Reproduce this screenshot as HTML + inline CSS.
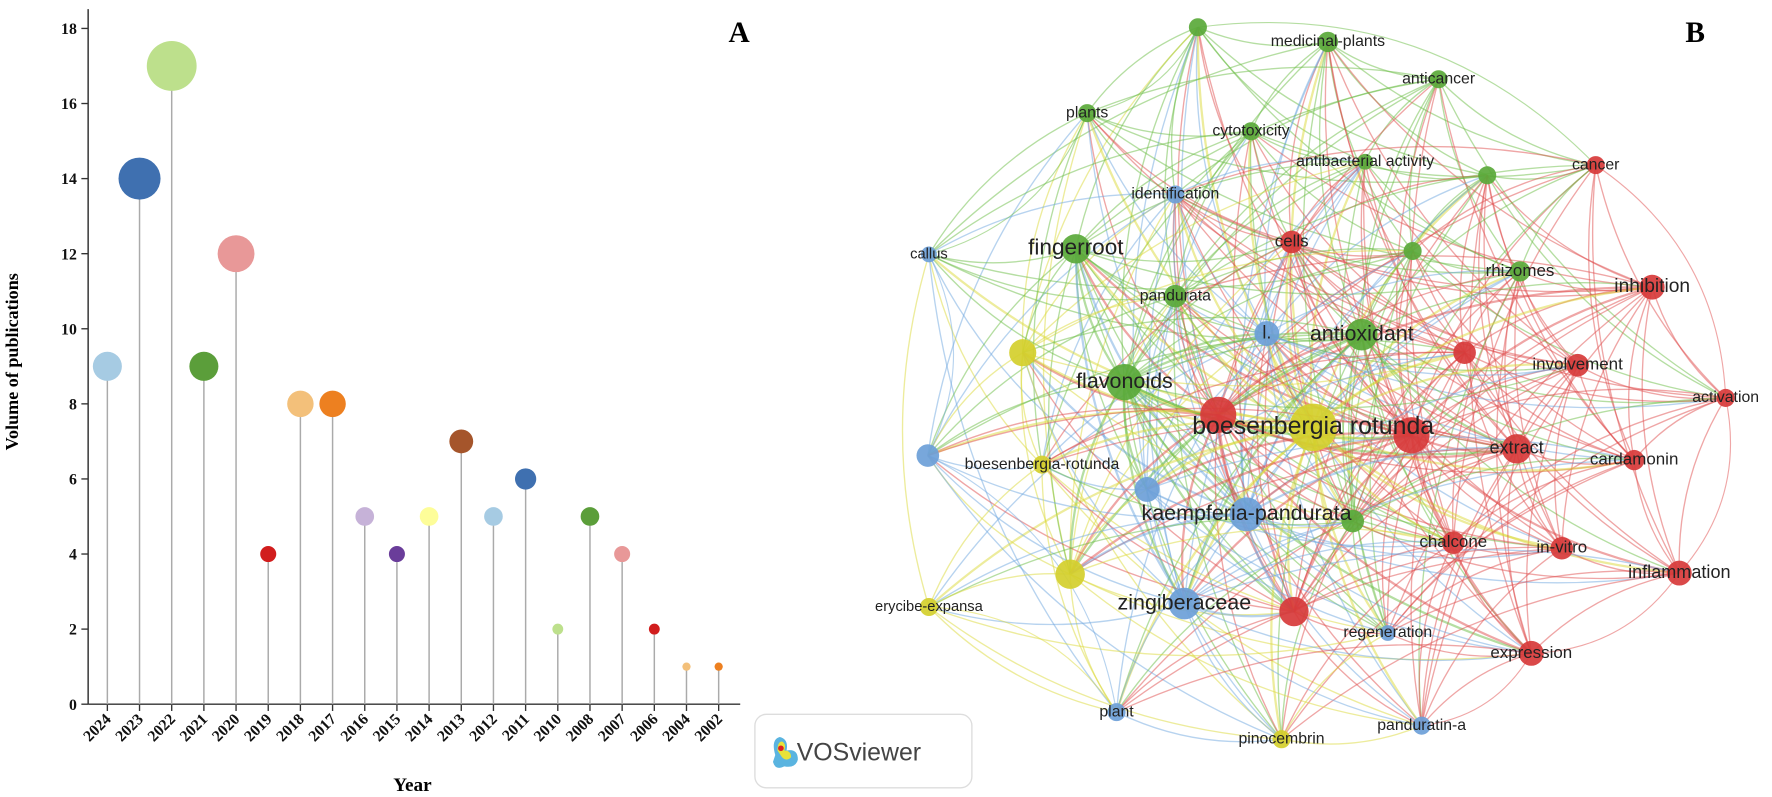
<!DOCTYPE html>
<html><head><meta charset="utf-8"><style>
html,body{margin:0;padding:0;background:#fff;}
svg{display:block;}
.tick{font-family:"Liberation Serif",serif;font-weight:bold;font-size:14px;fill:#111;}
.lbl{font-family:"Liberation Sans","DejaVu Sans",sans-serif;fill:#222;text-anchor:middle;dominant-baseline:middle;}
</style></head><body>
<svg id="fig" width="1772" height="797" viewBox="0 0 1568 705">
<g id="chartA"></g>
<g id="chartB"></g>
<text x="654" y="37" font-family="Liberation Serif,serif" font-weight="bold" font-size="26" text-anchor="middle">A</text>
<text x="1500" y="37" font-family="Liberation Serif,serif" font-weight="bold" font-size="26" text-anchor="middle">B</text>
<g>
<rect x="668" y="632" width="192" height="65" rx="10" fill="#fff" stroke="#ddd" stroke-width="1.2"/>
<path d="M686 668 q-4 -14 4 -16 q8 2 6 12 q10 -2 10 8 q-2 8 -12 6 q-8 4 -10 -4z" fill="#5ab4e0"/>
<path d="M688 664 q0 -8 4 -8 q4 2 2 8 q6 0 6 6 q-4 4 -8 0z" fill="#e8e23a"/>
<circle cx="691" cy="662" r="2.5" fill="#d22"/>
<text x="705" y="673" font-family="Liberation Sans,sans-serif" font-size="22" fill="#444">VOSviewer</text>
</g>
</svg>
<script>
const NS='http://www.w3.org/2000/svg';
// ---- Chart A data ----
const years=['2024','2023','2022','2021','2020','2019','2018','2017','2016','2015','2014','2013','2012','2011','2010','2008','2007','2006','2004','2002'];
const counts=[9,14,17,9,12,4,8,8,5,4,5,7,5,6,2,5,4,2,1,1];
const dotColors=['#a6cbe3','#3f70b0','#bde08c','#5b9e3a','#e89898','#d11d1d','#f3c07a','#ed8020','#c6b2d8','#6a3d9a','#fdfd99','#a5552b','#a6cbe3','#3f70b0','#bde08c','#5b9e3a','#e89898','#d11d1d','#f3c07a','#ed8020'];
const yTicks=[0,2,4,6,8,10,12,14,16,18];

function el(tag,attrs,parent){const e=document.createElementNS(NS,tag);for(const k in attrs)e.setAttribute(k,attrs[k]);parent.appendChild(e);return e;}
const A=document.getElementById('chartA');
const x0=78,y0=623,unit=33.22,xStart=95,xStep=28.47;
const xPos=i=>xStart+i*xStep;
const yPos=v=>y0-v*unit;
el('line',{x1:x0,y1:8,x2:x0,y2:y0,stroke:'#333','stroke-width':1.3},A);
el('line',{x1:x0,y1:y0,x2:655,y2:y0,stroke:'#333','stroke-width':1.3},A);
yTicks.forEach(t=>{
  const l=el('line',{x1:x0-6,y1:yPos(t),x2:x0,y2:yPos(t),stroke:'#333','stroke-width':1.2},A);
  
  const tx=el('text',{x:x0-10,y:yPos(t)+5,'text-anchor':'end',class:'tick'},A);tx.textContent=t;
  
  
});
years.forEach((yr,i)=>{
  const x=xPos(i);
  const tk=el('line',{x1:x,y1:y0,x2:x,y2:y0+6,stroke:'#333','stroke-width':1.2},A);
  
  const tx=el('text',{x:x+4,y:y0+14,'text-anchor':'end',class:'tick',transform:`rotate(-45 ${x+4} ${y0+14})`},A);tx.textContent=yr;
  
  
  const v=counts[i];const r=2.5+1.15*v;
  const st=el('line',{x1:x,y1:y0,x2:x,y2:yPos(v),stroke:'#aaa','stroke-width':1.3},A);
  
  
  const c=el('circle',{cx:x,cy:yPos(v),r:r,fill:dotColors[i]},A);
  
  
});
const yt=el('text',{x:16,y:320,'text-anchor':'middle',transform:'rotate(-90 16 320)','font-family':'Liberation Serif,serif','font-weight':'bold','font-size':16},A);
yt.textContent='Volume of publications';

const xt=el('text',{x:365,y:700,'text-anchor':'middle','font-family':'Liberation Serif,serif','font-weight':'bold','font-size':17},A);
xt.textContent='Year';


// ---- Chart B data ----
const nodeLabels=['','medicinal-plants','anticancer','plants','cytotoxicity','antibacterial activity','','cancer','identification','callus','fingerroot','cells','','rhizomes','inhibition','pandurata','l.','antioxidant','','','flavonoids','involvement','activation','','boesenbergia rotunda','','extract','cardamonin','','boesenbergia-rotunda','','kaempferia-pandurata','','chalcone','in-vitro','inflammation','','erycibe-expansa','zingiberaceae','','regeneration','expression','plant','pinocembrin','panduratin-a'];
const nodeX=[1060,1175,1273,962,1107,1208,1316,1412,1040,822,952,1143,1250,1345,1462,1040,1121,1205,905,1296,995,1396,1527,1078,1162,1249,1342,1446,821,922,1015,1103,1197,1286,1382,1486,947,822,1048,1145,1228,1355,988,1134,1258];
const nodeY=[24,37,70,100,116,143,155,146,172,225,220,214,222,240,254,262,295,296,312,312,338,323,352,367,378,385,397,407,403,411,433,455,461,480,485,507,508,537,534,541,560,578,630,654,642];
const nodeSize=[8,9,8,8,8,7,8,8,8,7,13,10,8,9,11,10,11,14,12,10,16,10,8,16,21,16,13,9,10,8,11,15,10,10,10,11,13,8,14,13,7,11,8,8,8];
const nodeCluster=['g','g','g','g','g','g','g','r','b','b','g','r','g','g','r','g','b','g','y','r','g','r','r','r','y','r','r','r','b','y','b','b','g','r','r','r','y','y','b','r','b','r','b','y','b'];
const labelFont=[0,14,14,14,14,14,0,14,14,13,20,15,0,15,17,14,16,19,0,0,19,15,14,0,22,0,16,15,0,14,0,19,0,15,15,16,0,13,19,0,14,15,14,14,14];
const clusterFill={g:'#5aa93a',r:'#d73a3a',b:'#6d9fd8',y:'#d4cf2c'};
const clusterEdge={g:'#6cbd45',r:'#e04e4e',b:'#6fa8e0',y:'#dcd93a'};

const B=document.getElementById('chartB');
const eg=el('g',{fill:'none'},B);

const N=nodeX.length;
for(let i=0;i<N;i++)for(let j=i+1;j<N;j++){
  const dx=nodeX[j]-nodeX[i],dy=nodeY[j]-nodeY[i],d=Math.hypot(dx,dy);
  const big=nodeSize[i]+nodeSize[j];
  if(d>440) continue;
  if(((i*13+j*7)%5)>=(big>24?4:3)) continue;
  const mx=(nodeX[i]+nodeX[j])/2-dy*0.15,my=(nodeY[i]+nodeY[j])/2+dx*0.15;
  const src=nodeSize[i]>=nodeSize[j]?i:j;
  const p=el('path',{d:`M${nodeX[i]} ${nodeY[i]} Q${mx} ${my} ${nodeX[j]} ${nodeY[j]}`,stroke:clusterEdge[nodeCluster[src]],'stroke-width':big>26?2:1.2,'stroke-opacity':0.5},eg);
  
  
}
// outer arcs
[[9,28],[28,42],[37,42],[3,9],[7,22],[22,35],[35,41],[0,7],[41,44],[0,3]].forEach(([a,b])=>{
  const dx=nodeX[b]-nodeX[a],dy=nodeY[b]-nodeY[a];
  const mx=(nodeX[a]+nodeX[b])/2+dy*0.25,my=(nodeY[a]+nodeY[b])/2-dx*0.25;
  const p=el('path',{d:`M${nodeX[a]} ${nodeY[a]} Q${mx} ${my} ${nodeX[b]} ${nodeY[b]}`,stroke:clusterEdge[nodeCluster[a]],'stroke-width':1,'stroke-opacity':0.5},eg);
  
  
});
for(let i=0;i<N;i++){
  const c=el('circle',{cx:nodeX[i],cy:nodeY[i],r:nodeSize[i],fill:clusterFill[nodeCluster[i]],'fill-opacity':0.92},B);
  
  
}
for(let i=0;i<N;i++){
  if(!nodeLabels[i]) continue;
  const t=el('text',{x:nodeX[i],y:nodeY[i],class:'lbl','font-size':labelFont[i]},B);
  t.textContent=nodeLabels[i];
  
  
}
</script>
</body></html>
